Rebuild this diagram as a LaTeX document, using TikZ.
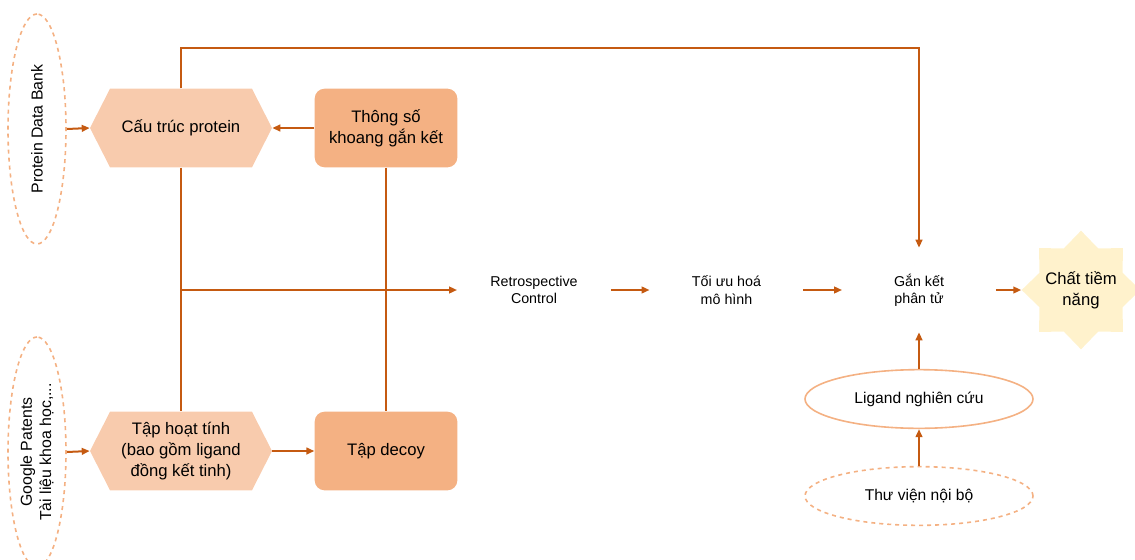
\documentclass[tikz,border=0pt]{standalone}
\usepackage{fontspec}
\setmainfont{Liberation Sans}
\usetikzlibrary{shapes.geometric,shapes.symbols,arrows.meta}
\definecolor{linec}{HTML}{C55A11}
\definecolor{hexfill}{HTML}{F8CBAD}
\definecolor{boxfill}{HTML}{F4B183}
\definecolor{starfill}{HTML}{FFF2CC}
\tikzset{
  arr/.style={draw=linec,line width=1.5pt,-{Triangle[length=6pt,width=5pt]}},
  ln/.style={draw=linec,line width=1.5pt},
  hexa/.style={shape=signal,signal to=west and east,signal pointer angle=126,
    fill=hexfill,minimum width=136.5pt,minimum height=59pt,inner sep=0pt,align=center,
    font=\fontsize{12.5}{15.5}\selectfont},
  rbox/.style={rounded corners=7.5pt,fill=boxfill,minimum width=107pt,minimum height=59pt,
    align=center,font=\fontsize{12.5}{15.5}\selectfont},
  srcell/.style={ellipse,dashed,draw=boxfill,line width=1.2pt,inner sep=0pt,align=center,
    font=\fontsize{11.9}{14.5}\selectfont},
  stepnode/.style={minimum width=115pt,minimum height=63pt,inner sep=0pt,align=center,
    font=\fontsize{10.7}{13}\selectfont},
}
\begin{document}
\begin{tikzpicture}[x=0.75pt,y=-0.75pt]
\useasboundingbox (0,0) rectangle (1135,560);
% sources
\node[srcell,rotate=90,minimum width=172.5pt,minimum height=43.5pt] (pdb) at (37,129) {Protein Data Bank};
\node[srcell,rotate=90,minimum width=172.5pt,minimum height=43.5pt] (ggl) at (37,452) {Google Patents\\Tài liệu khoa học,...};
% data boxes
\node[hexa] (prot) at (181,128) {Cấu trúc protein};
\node[hexa] (act) at (181,451) {Tập hoạt tính\\(bao gồm ligand\\đồng kết tinh)};
\node[rbox] (param) at (386,128) {Thông số\\khoang gắn kết};
\node[rbox] (decoy) at (386,451) {Tập decoy};
% steps
\node[stepnode] (retro) at (534,290) {Retrospective\\Control};
\node[stepnode] (opt) at (726.5,290) {Tối ưu hoá\\mô hình};
\node[stepnode] (dock) at (919,290) {Gắn kết\\phân tử};
\node[star,star points=8,star point ratio=1.32,minimum size=89pt,inner sep=0pt,fill=starfill,
  label={[align=center,font=\fontsize{12.5}{15.5}\selectfont]center:Chất tiềm\\năng}] (hit) at (1081,290) {};
% ligands
\node[ellipse,draw=boxfill,line width=1.2pt,minimum width=171pt,minimum height=44pt,inner sep=0pt,
  font=\fontsize{11.7}{14}\selectfont] (lig) at (919,399) {Ligand nghiên cứu};
\node[srcell,minimum width=171pt,minimum height=44pt,font=\fontsize{11.7}{14}\selectfont] (lib) at (919,496) {Thư viện nội bộ};
\coordinate (topc) at (919,48);
%
\draw[arr](pdb.south)--(prot.west);
\draw[arr](ggl.south)--(act.west);
\draw[arr](param.west)--(prot.east);
\draw[arr](act.east)--(decoy.west);
\draw[ln](prot.south)--(act.north);
\draw[ln](param.south)--(decoy.north);
\draw[arr](prot.south|-retro)--(retro.west);
\draw[arr](prot.north)|-(topc)--(dock.north);
\draw[arr](retro.east)--(opt.west);
\draw[arr](opt.east)--(dock.west);
\draw[arr](dock.east)--(hit.west);
\draw[arr](lig.north)--(dock.south);
\draw[arr](lib.north)--(lig.south);
\end{tikzpicture}
\end{document}
